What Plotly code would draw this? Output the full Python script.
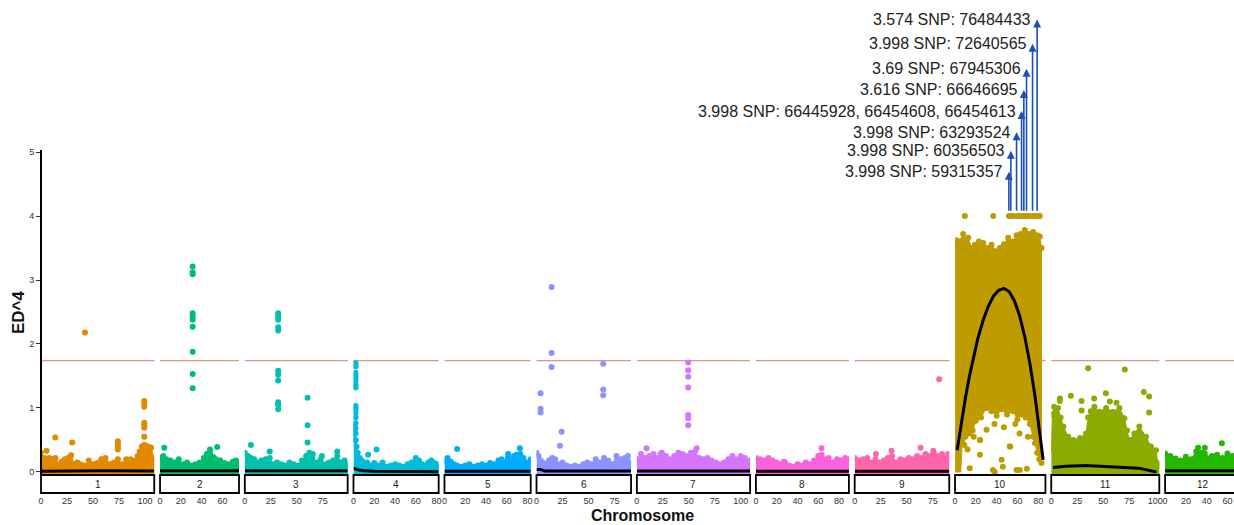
import math
import plotly.graph_objects as go

# ---------------- data ----------------
CHROMS = ["1", "2", "3", "4", "5", "6", "7", "8", "9", "10", "11", "12"]
CHROM_LEN = [109, 76, 99, 82, 83, 91, 109, 89.5, 91, 87, 104, 73]
X_TICKS = [[0, 25, 50, 75, 100], [0, 20, 40, 60], [0, 25, 50, 75], [0, 20, 40, 60, 80],
           [0, 20, 40, 60, 80], [0, 25, 50, 75], [0, 25, 50, 75, 100], [0, 20, 40, 60, 80],
           [0, 25, 50, 75], [0, 20, 40, 60, 80], [0, 25, 50, 75, 100], [0, 20, 40, 60]]
Y_TICKS = [0, 1, 2, 3, 4, 5]
THRESHOLD = 1.74

# upper edge of the dense point cloud for each chromosome
CLOUD_POS = [
    [0, 3, 6, 8, 11, 14, 17, 20, 23, 26, 29, 32, 35, 38, 42, 46, 50, 54, 58, 62, 66, 70, 74, 78, 82, 86, 90, 93, 95, 97, 100, 103, 106, 109],
    [0, 3, 6, 10, 14, 18, 22, 26, 30, 34, 38, 42, 45, 48, 51, 54, 58, 62, 66, 70, 73, 76],
    [0, 3, 6, 9, 12, 16, 20, 24, 27, 31, 35, 39, 43, 47, 51, 55, 59, 62, 65, 69, 73, 77, 81, 85, 89, 93, 96, 99],
    [0, 1, 2, 3, 4, 6, 8, 10, 13, 16, 20, 24, 28, 32, 36, 40, 44, 48, 52, 56, 60, 63, 66, 69, 72, 75, 78, 82],
    [0, 3, 6, 9, 12, 16, 20, 24, 28, 32, 36, 40, 44, 48, 52, 55, 58, 61, 64, 67, 70, 73, 76, 79, 83],
    [0, 2, 4, 6, 9, 12, 15, 18, 21, 25, 29, 33, 37, 41, 45, 49, 53, 57, 61, 65, 69, 73, 77, 81, 85, 88, 91],
    [0, 4, 8, 12, 16, 20, 24, 28, 32, 36, 40, 44, 48, 52, 56, 60, 64, 68, 72, 76, 80, 84, 88, 92, 96, 100, 104, 109],
    [0, 4, 8, 12, 16, 20, 24, 28, 32, 36, 40, 44, 48, 52, 56, 60, 63, 66, 70, 74, 78, 82, 86, 89.5],
    [0, 4, 8, 12, 16, 20, 24, 28, 32, 36, 40, 44, 48, 52, 56, 60, 64, 68, 72, 76, 80, 84, 88, 91],
    [0, 1.5, 4, 7.8, 10, 12.6, 16, 19.1, 23, 27.1, 31, 35.1, 39, 43.1, 47, 51.1, 55, 59.2, 63, 67.2, 71, 75.2, 79, 81.6, 83.2],
    [0, 1, 2.5, 6.5, 9, 11.6, 16.4, 21.3, 27.7, 33.5, 35.5, 38, 41.5, 46.3, 52.8, 59.2, 65.6, 70.4, 73, 75.2, 80, 84.8, 91.2, 96, 100.8, 102.5, 104],
    [0, 5, 10, 15, 20, 25, 30, 35, 40, 45, 50, 55, 60, 65, 70, 73],
]
CLOUD_TOP = [
    [0.30, 0.22, 0.18, 0.22, 0.20, 0.22, 0.12, 0.16, 0.20, 0.22, 0.26, 0.12, 0.15, 0.12, 0.10, 0.18, 0.12, 0.14, 0.20, 0.16, 0.12, 0.15, 0.20, 0.12, 0.14, 0.20, 0.18, 0.25, 0.32, 0.40, 0.42, 0.40, 0.38, 0.20],
    [0.22, 0.25, 0.20, 0.18, 0.15, 0.20, 0.12, 0.15, 0.10, 0.12, 0.15, 0.22, 0.28, 0.30, 0.24, 0.20, 0.18, 0.14, 0.12, 0.16, 0.18, 0.15],
    [0.30, 0.25, 0.22, 0.20, 0.15, 0.18, 0.20, 0.22, 0.12, 0.15, 0.12, 0.10, 0.15, 0.12, 0.10, 0.18, 0.25, 0.30, 0.22, 0.15, 0.20, 0.12, 0.15, 0.18, 0.25, 0.15, 0.18, 0.12],
    [0.75, 0.60, 0.50, 0.40, 0.30, 0.22, 0.18, 0.12, 0.15, 0.10, 0.14, 0.10, 0.15, 0.08, 0.10, 0.12, 0.10, 0.08, 0.12, 0.15, 0.22, 0.18, 0.12, 0.10, 0.15, 0.18, 0.14, 0.12],
    [0.18, 0.22, 0.16, 0.12, 0.10, 0.08, 0.10, 0.12, 0.08, 0.10, 0.12, 0.10, 0.14, 0.12, 0.18, 0.20, 0.15, 0.22, 0.20, 0.25, 0.20, 0.28, 0.22, 0.15, 0.20],
    [0.30, 0.25, 0.18, 0.15, 0.12, 0.18, 0.22, 0.20, 0.12, 0.15, 0.10, 0.08, 0.10, 0.08, 0.12, 0.15, 0.12, 0.20, 0.15, 0.22, 0.18, 0.12, 0.25, 0.20, 0.22, 0.25, 0.15],
    [0.20, 0.28, 0.22, 0.25, 0.28, 0.22, 0.30, 0.25, 0.20, 0.25, 0.30, 0.28, 0.25, 0.30, 0.32, 0.22, 0.20, 0.22, 0.18, 0.15, 0.12, 0.15, 0.20, 0.25, 0.20, 0.25, 0.22, 0.18],
    [0.22, 0.20, 0.18, 0.22, 0.18, 0.15, 0.12, 0.15, 0.10, 0.08, 0.12, 0.10, 0.15, 0.12, 0.18, 0.25, 0.22, 0.20, 0.22, 0.15, 0.20, 0.18, 0.22, 0.20],
    [0.22, 0.18, 0.20, 0.22, 0.15, 0.20, 0.15, 0.18, 0.22, 0.25, 0.15, 0.20, 0.18, 0.22, 0.20, 0.25, 0.22, 0.28, 0.25, 0.30, 0.25, 0.28, 0.22, 0.20],
    [3.55, 3.62, 3.60, 3.72, 3.62, 3.66, 3.50, 3.55, 3.60, 3.58, 3.50, 3.55, 3.45, 3.50, 3.56, 3.66, 3.60, 3.70, 3.72, 3.78, 3.72, 3.75, 3.70, 3.68, 3.50],
    [0.35, 0.90, 1.02, 1.00, 0.85, 0.71, 0.55, 0.50, 0.53, 0.60, 0.85, 0.95, 1.02, 0.94, 1.00, 0.94, 1.00, 0.84, 0.65, 0.50, 0.60, 0.71, 0.55, 0.40, 0.34, 0.14, 0.10],
    [0.29, 0.25, 0.21, 0.18, 0.24, 0.20, 0.32, 0.30, 0.22, 0.25, 0.27, 0.22, 0.29, 0.25, 0.25, 0.22],
]
# lower edge of the chromosome 10 cloud (right to left)
C10_LOW_POS = [83.2, 81, 79, 77, 75, 72, 68, 64, 60, 56, 50, 45, 40, 35, 30, 25, 20, 17, 14, 10, 7, 5.5, 0]
C10_LOW_VAL = [0.14, 0.20, 0.30, 0.45, 0.55, 0.75, 0.85, 0.90, 0.82, 0.95, 0.90, 0.98, 0.88, 0.95, 1.00, 0.85, 0.80, 0.65, 0.60, 0.55, 0.50, 0.0, 0.0]

# individual (isolated) points
OUT_POS = [
    [5.4, 13.7, 30, 42.3, 62, 82, 74, 74, 74, 74, 99.4, 99.4, 99.4, 99.4, 99.4, 99.4, 99.4, 99.4],
    [31.4, 31.4, 31.4, 31.4, 31.4, 31.4, 31.4, 31.4, 31.4, 31.4, 4.1, 55, 48],
    [32.1, 32.1, 32.1, 32.1, 32.1, 32.1, 32.1, 32.1, 32.1, 32.1, 32.1, 60.4, 60.4, 60.4, 5.9, 24, 89, 65.5, 74.2],
    [2, 2, 2, 2, 2, 2, 2, 2, 2, 2, 2, 2, 2, 2, 2, 22.2, 14.1],
    [12.2, 61.3, 72.6, 69.4],
    [3.9, 3.9, 3.9, 14.5, 14.5, 14.5, 24.2, 22.5, 64.2, 64.2, 64.2],
    [49.4, 49.4, 49.4, 49.4, 49.4, 49.4, 49.4, 9.3, 57.5, 22.8],
    [63.2, 63.2, 27],
    [81.3, 20.4, 35.5, 63.4, 75.6, 90],
    [9.4, 36.7, 51.8, 53.7, 55.6, 59.2, 61.4, 64.0, 66.2, 68.8, 71, 74.6, 76.8, 79.0, 81.6,
     14.2, 23.9, 52.7, 44.8, 46, 59.2, 36.4, 23.9, 30.3, 38.3, 62.4, 69.1,
     9, 12, 18, 24, 38, 47, 53, 58, 62, 70],
    [35.5, 70.8, 8.3, 8.3, 18.9, 29.2, 29.2, 52.6, 41.3, 56.4, 62.8, 89.1, 94.2, 94.2],
    [31.8, 38.2, 38.2, 54.6],
]
OUT_VAL = [
    [0.33, 0.54, 0.46, 2.18, 0.22, 0.20, 0.35, 0.40, 0.45, 0.48, 0.42, 0.55, 0.69, 0.73, 0.77, 1.02, 1.06, 1.11],
    [3.21, 3.12, 3.09, 2.48, 2.43, 2.38, 2.27, 1.88, 1.53, 1.31, 0.38, 0.39, 0.35],
    [2.48, 2.43, 2.38, 2.26, 2.21, 1.58, 1.52, 1.43, 1.09, 1.05, 0.98, 1.16, 0.73, 0.46, 0.42, 0.32, 0.32, 0.28, 0.25],
    [1.70, 1.65, 1.55, 1.49, 1.43, 1.36, 1.32, 1.03, 0.98, 0.92, 0.85, 0.76, 0.68, 0.60, 0.50, 0.35, 0.27],
    [0.36, 0.28, 0.37, 0.27],
    [1.23, 0.99, 0.93, 2.89, 1.86, 1.64, 0.63, 0.41, 1.69, 1.29, 1.20],
    [1.71, 1.59, 1.49, 1.32, 0.89, 0.84, 0.73, 0.37, 0.37, 0.28],
    [0.37, 0.27, 0.16],
    [1.45, 0.28, 0.33, 0.38, 0.33, 0.28],
    [3.998, 3.998, 3.998, 3.998, 3.998, 3.998, 3.998, 3.998, 3.998, 3.998, 3.998, 3.998, 3.998, 3.998, 3.998,
     0.06, 0.27, 0.40, 0.19, 0.08, 0.03, 0.03, 0.50, 0.66, 0.00, 0.03, 0.05,
     0.42, 0.35, 0.55, 0.50, 0.75, 0.70, 0.40, 0.75, 0.60, 0.55],
    [1.62, 1.60, 1.15, 1.11, 1.19, 1.11, 0.96, 1.23, 1.15, 1.10, 1.08, 1.25, 1.18, 0.93],
    [0.38, 0.38, 0.29, 0.45],
]

# smoothed (loess) black curve per chromosome
FIT_POS = [[0, 30, 60, 109], [0, 76], [0, 99], [0, 2, 5, 10, 20, 82], [0, 83], [0, 4, 8, 91],
           [0, 109], [0, 89.5], [0, 91],
           [2, 6, 10, 14, 18, 22, 27, 32, 37, 42, 47, 52, 57, 62, 67, 72, 77, 81, 84.8],
           [1.8, 14, 33, 62, 84, 101.3], [0, 73]]
FIT_VAL = [[0.01, 0.02, 0.02, 0.015], [0.02, 0.02], [0.02, 0.02], [0.06, 0.05, 0.03, 0.02, 0.01, 0.005],
           [0.01, 0.01], [0.04, 0.04, 0.015, 0.015], [0.015, 0.015], [0.01, 0.01], [0.01, 0.01],
           [0.34, 0.77, 1.16, 1.51, 1.82, 2.09, 2.37, 2.59, 2.75, 2.84, 2.87, 2.82, 2.68, 2.45, 2.12, 1.70, 1.18, 0.70, 0.19],
           [0.07, 0.09, 0.10, 0.08, 0.06, 0.0], [0.02, 0.02]]

# labelled hits on chromosome 10
HIT_POS = [51.8, 53.7, 59.2, 64.0, 66.2, 68.8, 74.6, 79.0]
HIT_SCORE = ["3.998", "3.998", "3.998", "3.998", "3.616", "3.69", "3.998", "3.574"]
HIT_SNP = ["59315357", "60356503", "63293524", "66445928, 66454608, 66454613",
           "66646695", "67945306", "72640565", "76484433"]
LABEL_Y = [4.69, 5.02, 5.31, 5.64, 5.97, 6.30, 6.69, 7.07]

# ---------------- styling / layout ----------------
W, H = 1234, 525
K = 1.039            # px per unit on x
GAP = 5.8            # px between panels
LEFT = 41.0
PLOT_BOTTOM_PX = 475.0
STRIP_BOTTOM_PX = 493.0
Y_RANGE = [-0.047, 7.375]
AXIS_TOP_VAL = 5.03
ARROW_BASE = 4.06
FONT = "Liberation Sans, Arial, sans-serif"
BLUE = "#1E4FB5"


def hcl_hex(h, c=100.0, l=65.0):
    hr = math.radians(h)
    u, v = c * math.cos(hr), c * math.sin(hr)
    Xn, Yn, Zn = 95.047, 100.0, 108.883
    Y = Yn * ((l + 16) / 116) ** 3
    den = Xn + 15 * Yn + 3 * Zn
    un, vn = 4 * Xn / den, 9 * Yn / den
    up, vp = u / (13 * l) + un, v / (13 * l) + vn
    X = Y * 9 * up / (4 * vp)
    Z = Y * (12 - 3 * up - 20 * vp) / (4 * vp)
    X, Y, Z = X / 100, Y / 100, Z / 100
    rgb = [3.240479 * X - 1.537150 * Y - 0.498535 * Z,
           -0.969256 * X + 1.875992 * Y + 0.041556 * Z,
           0.055648 * X - 0.204043 * Y + 1.057311 * Z]
    out = []
    for ch in rgb:
        ch = 12.92 * ch if ch <= 0.0031308 else 1.055 * ch ** (1 / 2.4) - 0.055
        out.append(int(round(min(1, max(0, ch)) * 255)))
    return "#%02X%02X%02X" % tuple(out)


levels = sorted(CHROMS)            # "1","10","11","12","2",...
n_col = len(CHROMS) + 1
hues = [15 + i * 360 / n_col for i in range(n_col)]
COLORS = [hcl_hex(hues[levels.index(c) + 1]) for c in CHROMS]

fig = go.Figure()
layout = dict(
    width=W, height=H, template="none",
    margin=dict(l=0, r=0, t=0, b=0, pad=0),
    paper_bgcolor="white", plot_bgcolor="white",
    showlegend=False, font=dict(family=FONT, color="#333"),
)
shapes, annotations = [], []

x0px = LEFT
ymin = Y_RANGE[0]
for i, chrom in enumerate(CHROMS):
    n = i + 1
    sfx = "" if n == 1 else str(n)
    L = CHROM_LEN[i]
    x1px = x0px + L * K
    if x1px > W:
        dom = [x0px / W, 1.0]
        rng = [0, (W - x0px) / K]
    else:
        dom = [x0px / W, x1px / W]
        rng = [0, L]
    col = COLORS[i]
    xa, ya = "x" + sfx, "y" + sfx

    layout["xaxis" + sfx] = dict(
        domain=dom, range=rng, anchor="free", position=1 - (STRIP_BOTTOM_PX + 1) / H,
        showline=False, showgrid=False, zeroline=False, ticks="",
        tickvals=X_TICKS[i], tickfont=dict(size=9, color="#333", family=FONT),
        automargin=False, fixedrange=True,
    )
    layout["yaxis" + sfx] = dict(
        domain=[1 - PLOT_BOTTOM_PX / H, 1.0], range=Y_RANGE, anchor=xa,
        showline=False, showgrid=False, zeroline=False,
        tickvals=Y_TICKS, showticklabels=(n == 1),
        ticks="outside" if n == 1 else "", ticklen=4, tickwidth=1, tickcolor="#333",
        tickfont=dict(size=9, color="#333", family=FONT), automargin=False, fixedrange=True,
    )

    # dense cloud
    pos, top = CLOUD_POS[i], CLOUD_TOP[i]
    if chrom == "10":
        px_ = pos + C10_LOW_POS
        py_ = top + C10_LOW_VAL
        bump_x = pos + C10_LOW_POS[:-2]
        bump_y = top + C10_LOW_VAL[:-2]
    else:
        px_ = pos + [pos[-1], pos[0]]
        py_ = top + [ymin, ymin]
        bump_x, bump_y = pos, top
    fig.add_trace(go.Scatter(x=px_, y=py_, xaxis=xa, yaxis=ya, mode="lines", fill="toself",
                             fillcolor=col, line=dict(color=col, width=1), hoverinfo="skip"))
    fig.add_trace(go.Scatter(x=bump_x, y=bump_y, xaxis=xa, yaxis=ya, mode="markers",
                             marker=dict(size=6, color=col, line=dict(width=0)), hoverinfo="skip"))
    # isolated points
    fig.add_trace(go.Scatter(x=OUT_POS[i], y=OUT_VAL[i], xaxis=xa, yaxis=ya, mode="markers",
                             marker=dict(size=6, color=col, line=dict(width=0))))
    # fitted curve
    fig.add_trace(go.Scatter(x=FIT_POS[i], y=FIT_VAL[i], xaxis=xa, yaxis=ya, mode="lines",
                             line=dict(color="black", width=3), hoverinfo="skip"))

    # threshold line
    shapes.append(dict(type="line", xref=xa + " domain", yref=ya, x0=0, x1=1,
                       y0=THRESHOLD, y1=THRESHOLD, layer="below",
                       line=dict(color="#EE8E84", width=1.2)))
    # strip box
    shapes.append(dict(type="rect", xref="paper", yref="paper",
                       x0=x0px / W, x1=x1px / W,
                       y0=1 - STRIP_BOTTOM_PX / H, y1=1 - PLOT_BOTTOM_PX / H,
                       fillcolor="white", line=dict(color="black", width=1.8)))
    annotations.append(dict(xref="paper", yref="paper",
                            x=(x0px + x1px) / 2 / W,
                            y=1 - (PLOT_BOTTOM_PX + STRIP_BOTTOM_PX) / 2 / H,
                            text=chrom, showarrow=False, xanchor="center", yanchor="middle",
                            font=dict(size=10, color="#1a1a1a", family=FONT)))
    x0px = x1px + GAP

# y axis line
shapes.append(dict(type="line", xref="paper", yref="paper", x0=LEFT / W, x1=LEFT / W,
                   y0=1 - PLOT_BOTTOM_PX / H,
                   y1=1 - (PLOT_BOTTOM_PX - (AXIS_TOP_VAL - Y_RANGE[0]) / (Y_RANGE[1] - Y_RANGE[0]) * PLOT_BOTTOM_PX) / H,
                   line=dict(color="black", width=2)))

# labelled hits on chromosome 10
for pos, ly, sc, snp in zip(HIT_POS, LABEL_Y, HIT_SCORE, HIT_SNP):
    annotations.append(dict(x=pos, y=ly, ax=pos, ay=ARROW_BASE, xref="x10", yref="y10",
                            axref="x10", ayref="y10", text="", showarrow=True,
                            arrowhead=2, arrowsize=1, arrowwidth=1.6, arrowcolor=BLUE,
                            standoff=0, startstandoff=0))
    annotations.append(dict(x=pos, y=ly, xref="x10", yref="y10", text=f"{sc} SNP: {snp}",
                            showarrow=False, xanchor="right", yanchor="middle", xshift=-4,
                            font=dict(size=16, color="#222", family=FONT)))

# axis titles
annotations.append(dict(xref="paper", yref="paper", x=642 / W, y=1 - 515 / H,
                        text="<b>Chromosome</b>", showarrow=False, xanchor="center", yanchor="middle",
                        font=dict(size=16, color="#111", family=FONT)))
annotations.append(dict(xref="paper", yref="paper", x=18 / W, y=1 - 312 / H,
                        text="<b>ED^4</b>", showarrow=False, textangle=-90,
                        xanchor="center", yanchor="middle",
                        font=dict(size=17, color="#111", family=FONT)))

layout["shapes"] = shapes
layout["annotations"] = annotations
fig.update_layout(**layout)
fig.write_html(
    "out.html",
    config={"displayModeBar": False},
    post_script="document.body.style.margin='0';document.body.style.padding='0';"
                "document.body.style.overflow='hidden';",
)
